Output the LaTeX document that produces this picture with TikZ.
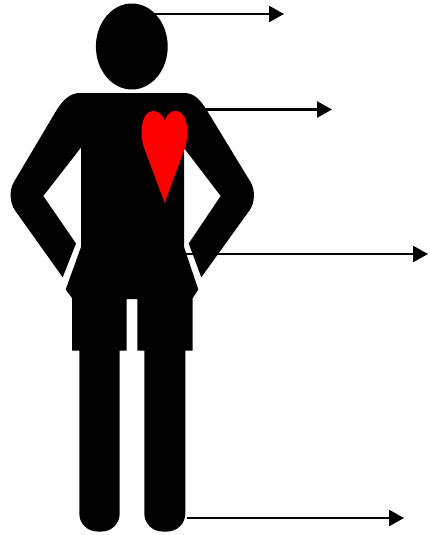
\documentclass[tikz,border=0pt]{standalone}
\usepackage{xcolor}
\usetikzlibrary{arrows.meta}

\begin{document}
\begin{tikzpicture}[
    x=1pt, y=-1pt,
    arrow/.style={-{Triangle[length=15pt, width=16pt]}, line width=2.6pt},
    figure/.style={fill=black, draw=none}
]
    \useasboundingbox (0,0) rectangle (430,535);

    % Arrow ends
    \coordinate (headstart) at (150,14);
    \coordinate (headend) at (284,14);
    \coordinate (chest) at (200,109.5);
    \coordinate (chestend) at (332,109.5);
    \coordinate (waist) at (186,254);
    \coordinate (waistend) at (428,254);
    \coordinate (foot) at (187,518);
    \coordinate (footend) at (404,518);

    % Arrows (behind the figure)
    \draw[arrow] (headstart) -- (headend);
    \draw[arrow] (chest) -- (chestend);
    \draw[arrow] (waist) -- (waistend);
    \draw[arrow] (foot) -- (footend);

    % Head
    \fill[figure] (131.8,46.5) ellipse [x radius=35.9, y radius=43];

    % Body, arms and legs
    \fill[figure] (80,93)
        .. controls (70,93) and (63,100) .. (56.7,110)
        [rounded corners=17pt] -- (5.2,196.6)
        [sharp corners] -- (62.7,277.3) -- (76,243.5) -- (43.3,196) -- (81,147.5)
        -- (81,247) -- (65.7,289.5) -- (72,298) -- (72,350.7) -- (79.3,350.7)
        [rounded corners=18pt] -- (79.3,531.5) -- (119.7,531.5)
        [sharp corners] -- (119.7,350.7) -- (126.7,350.7) -- (126.7,299) -- (137.3,299)
        -- (137.3,350.7) -- (144.3,350.7)
        [rounded corners=18pt] -- (144.3,531.5) -- (185.3,531.5)
        [sharp corners] -- (185.3,350.7) -- (192.7,350.7) -- (192.7,298) -- (198.3,289.5)
        -- (184,247) -- (184,148) -- (220.7,196) -- (188.7,243.5) -- (201.3,277.3)
        [rounded corners=17pt] -- (259.4,196.6)
        [sharp corners] -- (206.7,110)
        .. controls (200.5,100) and (194,93) .. (184.6,93)
        -- cycle;

    % Heart
    \fill[red] (164.7,202.7) -- (144.5,149)
        .. controls (141,140) and (141,128) .. (143,121)
        .. controls (145,114) and (149,111) .. (153.5,111)
        .. controls (158,111) and (162,114) .. (164.7,120.7)
        .. controls (167,114) and (171,111) .. (175,111)
        .. controls (180,111) and (184,114) .. (186,121)
        .. controls (188,128) and (188,140) .. (184.5,149)
        -- cycle;

\end{tikzpicture}
\end{document}
